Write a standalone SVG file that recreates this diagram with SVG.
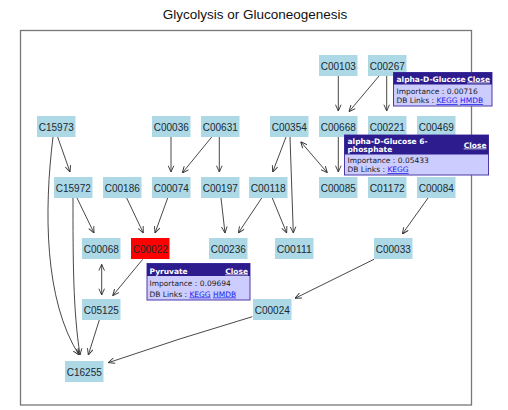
<svg xmlns="http://www.w3.org/2000/svg" width="508" height="410" viewBox="0 0 508 410">
<style>
.title{font-family:"Liberation Sans",Arial,sans-serif;font-size:13.5px;fill:#111}
.frame{fill:#fff;stroke:#777;stroke-width:1.3}
.node rect{fill:#add8e6}
.node.hit rect{fill:#ff0000}
.node text{font-family:"Liberation Sans",Arial,sans-serif;font-size:11px;fill:#1a2a33;text-anchor:middle}
.edges path{fill:none;stroke:#333;stroke-width:0.9}
.tip .box{fill:#ccccff;stroke:#4b3ba6;stroke-width:1}
.tip .head{fill:#2d1c8e}
.tip text{font-family:"DejaVu Sans",Verdana,sans-serif;font-size:7.5px;fill:#1a1a1a}
.tip .ht{font-weight:bold;fill:#fff}
.tip .close{font-weight:bold;fill:#fff;text-decoration:underline;text-anchor:end}
.tip .link{fill:#1a1aee;text-decoration:underline}
</style>
<defs>
<marker id="arr" viewBox="0 0 10 10" refX="10" refY="5" markerWidth="7" markerHeight="7" markerUnits="userSpaceOnUse" orient="auto-start-reverse">
<path d="M1,1 L10,5 L1,9" fill="none" stroke="#333" stroke-width="1.3"/>
</marker>
</defs>
<rect width="508" height="410" fill="#fff"/>
<text class="title" x="255" y="18.5" text-anchor="middle">Glycolysis or Gluconeogenesis</text>
<rect class="frame" x="20.5" y="30.5" width="451" height="374.5"/>
<g id="connectors" class="edges">
<path marker-end="url(#arr)" d="M57.7,137 L70,172"/>
<path marker-end="url(#arr)" d="M53,137 C44,210 44,300 79,355"/>
<path marker-end="url(#arr)" d="M73,198 C73,260 73,310 80,355"/>
<path marker-end="url(#arr)" d="M77,198 L94,233"/>
<path marker-end="url(#arr)" d="M126.7,198 L143.3,233"/>
<path marker-end="url(#arr)" d="M167.7,198 L155,233"/>
<path marker-end="url(#arr)" d="M171,137 L171,172"/>
<path marker-end="url(#arr)" d="M211.7,137 L182.3,173"/>
<path marker-end="url(#arr)" d="M219.3,137 L219.3,172"/>
<path marker-end="url(#arr)" d="M221,198 L225,233"/>
<path marker-end="url(#arr)" d="M261.7,198 L238.3,233"/>
<path marker-end="url(#arr)" d="M272.3,198 L286.7,233"/>
<path marker-end="url(#arr)" d="M290,137 L293.3,233"/>
<path marker-end="url(#arr)" d="M286,137 L272.7,172"/>
<path marker-start="url(#arr)" marker-end="url(#arr)" d="M300.7,141.7 L327.3,172.7"/>
<path marker-end="url(#arr)" d="M338.3,137 L338.3,172"/>
<path marker-end="url(#arr)" d="M338.3,76 L338.3,111"/>
<path marker-end="url(#arr)" d="M379,76 L349,111.7"/>
<path marker-end="url(#arr)" d="M386.7,76 L386.7,111"/>
<path marker-end="url(#arr)" d="M428,198 L402.3,234"/>
<path marker-end="url(#arr)" d="M374,259.3 L295,298.3"/>
<path marker-end="url(#arr)" d="M252.3,316.7 Q180,338 108.3,362.7"/>
<path marker-start="url(#arr)" marker-end="url(#arr)" d="M101.7,264.3 L101.7,295"/>
<path marker-end="url(#arr)" d="M142.7,259.3 L112.7,295.7"/>
<path marker-end="url(#arr)" d="M99.3,320 L88.3,355"/>
</g>
<g id="C00103" class="node"><rect x="319" y="55" width="38.5" height="21"/><text x="338.25" y="69.5" textLength="35" lengthAdjust="spacingAndGlyphs">C00103</text></g>
<g id="C00267" class="node"><rect x="368" y="55" width="38.5" height="21"/><text x="387.25" y="69.5" textLength="35" lengthAdjust="spacingAndGlyphs">C00267</text></g>
<g id="C15973" class="node"><rect x="37" y="116" width="38.5" height="21"/><text x="56.25" y="130.5" textLength="35" lengthAdjust="spacingAndGlyphs">C15973</text></g>
<g id="C00036" class="node"><rect x="152" y="116" width="38.5" height="21"/><text x="171.25" y="130.5" textLength="35" lengthAdjust="spacingAndGlyphs">C00036</text></g>
<g id="C00631" class="node"><rect x="201" y="116" width="38.5" height="21"/><text x="220.25" y="130.5" textLength="35" lengthAdjust="spacingAndGlyphs">C00631</text></g>
<g id="C00354" class="node"><rect x="270" y="116" width="38.5" height="21"/><text x="289.25" y="130.5" textLength="35" lengthAdjust="spacingAndGlyphs">C00354</text></g>
<g id="C00668" class="node"><rect x="319" y="116" width="38.5" height="21"/><text x="338.25" y="130.5" textLength="35" lengthAdjust="spacingAndGlyphs">C00668</text></g>
<g id="C00221" class="node"><rect x="368" y="116" width="38.5" height="21"/><text x="387.25" y="130.5" textLength="35" lengthAdjust="spacingAndGlyphs">C00221</text></g>
<g id="C00469" class="node"><rect x="417" y="116" width="38.5" height="21"/><text x="436.25" y="130.5" textLength="35" lengthAdjust="spacingAndGlyphs">C00469</text></g>
<g id="C15972" class="node"><rect x="54" y="177" width="38.5" height="21"/><text x="73.25" y="191.5" textLength="35" lengthAdjust="spacingAndGlyphs">C15972</text></g>
<g id="C00186" class="node"><rect x="103" y="177" width="38.5" height="21"/><text x="122.25" y="191.5" textLength="35" lengthAdjust="spacingAndGlyphs">C00186</text></g>
<g id="C00074" class="node"><rect x="152" y="177" width="38.5" height="21"/><text x="171.25" y="191.5" textLength="35" lengthAdjust="spacingAndGlyphs">C00074</text></g>
<g id="C00197" class="node"><rect x="201" y="177" width="38.5" height="21"/><text x="220.25" y="191.5" textLength="35" lengthAdjust="spacingAndGlyphs">C00197</text></g>
<g id="C00118" class="node"><rect x="249" y="177" width="38.5" height="21"/><text x="268.25" y="191.5" textLength="35" lengthAdjust="spacingAndGlyphs">C00118</text></g>
<g id="C00085" class="node"><rect x="319" y="177" width="38.5" height="21"/><text x="338.25" y="191.5" textLength="35" lengthAdjust="spacingAndGlyphs">C00085</text></g>
<g id="C01172" class="node"><rect x="368" y="177" width="38.5" height="21"/><text x="387.25" y="191.5" textLength="35" lengthAdjust="spacingAndGlyphs">C01172</text></g>
<g id="C00084" class="node"><rect x="417" y="177" width="38.5" height="21"/><text x="436.25" y="191.5" textLength="35" lengthAdjust="spacingAndGlyphs">C00084</text></g>
<g id="C00068" class="node"><rect x="82" y="238" width="38.5" height="21"/><text x="101.25" y="252.5" textLength="35" lengthAdjust="spacingAndGlyphs">C00068</text></g>
<g id="C00022" class="node hit"><rect x="131" y="238" width="38.5" height="21"/><text x="150.25" y="252.5" textLength="35" lengthAdjust="spacingAndGlyphs">C00022</text></g>
<g id="C00236" class="node"><rect x="209" y="238" width="38.5" height="21"/><text x="228.25" y="252.5" textLength="35" lengthAdjust="spacingAndGlyphs">C00236</text></g>
<g id="C00111" class="node"><rect x="275" y="238" width="38.5" height="21"/><text x="294.25" y="252.5" textLength="35" lengthAdjust="spacingAndGlyphs">C00111</text></g>
<g id="C00033" class="node"><rect x="374" y="238" width="38.5" height="21"/><text x="393.25" y="252.5" textLength="35" lengthAdjust="spacingAndGlyphs">C00033</text></g>
<g id="C05125" class="node"><rect x="82" y="299" width="38.5" height="21"/><text x="101.25" y="313.5" textLength="35" lengthAdjust="spacingAndGlyphs">C05125</text></g>
<g id="C00024" class="node"><rect x="253" y="299" width="38.5" height="21"/><text x="272.25" y="313.5" textLength="35" lengthAdjust="spacingAndGlyphs">C00024</text></g>
<g id="C16255" class="node"><rect x="65" y="361" width="38.5" height="21"/><text x="84.25" y="375.5" textLength="35" lengthAdjust="spacingAndGlyphs">C16255</text></g>
<g id="tip-glucose" class="tip">
<rect class="box" x="393.5" y="72.5" width="98.5" height="33.5"/>
<rect class="head" x="393.5" y="72.5" width="98.5" height="12"/>
<text class="ht" x="396.5" y="81.5">alpha-D-Glucose</text>
<text class="close" x="490" y="81.5">Close</text>
<text x="396.5" y="93.5">Importance : 0.00716</text>
<text x="396.5" y="103">DB Links : <tspan class="link">KEGG</tspan> <tspan class="link">HMDB</tspan></text>
</g>
<g id="tip-g6p" class="tip">
<rect class="box" x="344.5" y="135" width="144" height="40"/>
<rect class="head" x="344.5" y="135" width="144" height="19.5"/>
<text class="ht" x="347.5" y="143.5">alpha-D-Glucose 6-</text>
<text class="ht" x="347.5" y="151.5">phosphate</text>
<text class="close" x="486.5" y="147.5">Close</text>
<text x="347.5" y="163">Importance : 0.05433</text>
<text x="347.5" y="172">DB Links : <tspan class="link">KEGG</tspan></text>
</g>
<g id="tip-pyruvate" class="tip">
<rect class="box" x="147" y="263.5" width="103" height="36.5"/>
<rect class="head" x="147" y="263.5" width="103" height="12.5"/>
<text class="ht" x="149.5" y="273.5">Pyruvate</text>
<text class="close" x="248" y="273.5">Close</text>
<text x="149.5" y="286">Importance : 0.09694</text>
<text x="149.5" y="296.5">DB Links : <tspan class="link">KEGG</tspan> <tspan class="link">HMDB</tspan></text>
</g>
</svg>
